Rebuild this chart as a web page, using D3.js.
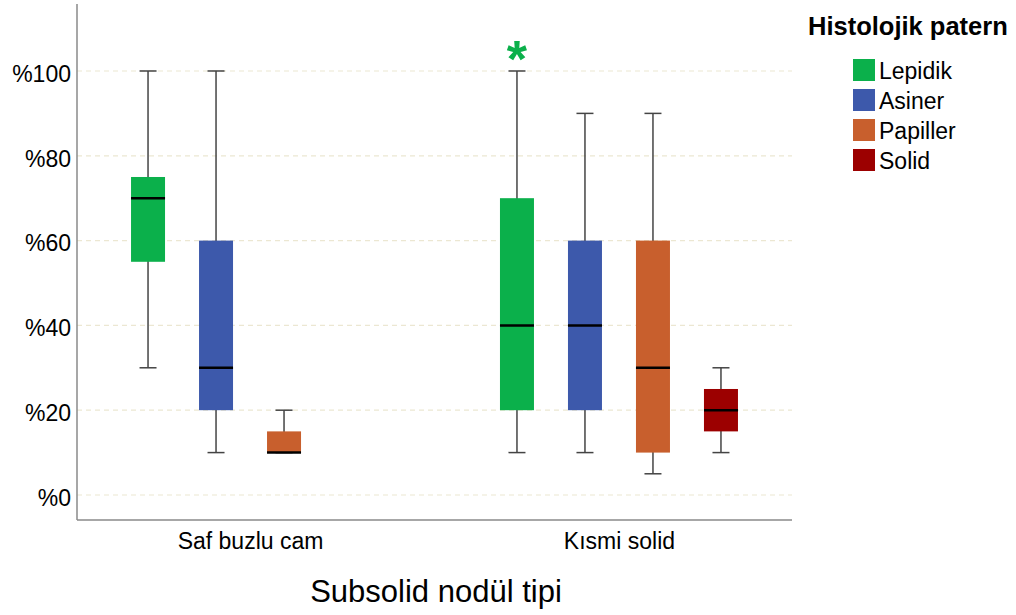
<!DOCTYPE html>
<html>
<head>
<meta charset="utf-8">
<script src="https://cdn.jsdelivr.net/npm/d3@7"></script>
<style>
  body { margin: 0; background: #fff; }
  svg text { font-family: "Liberation Sans", Arial, sans-serif; fill: #000; }
</style>
</head>
<body>
<svg id="chart" width="1016" height="615"></svg>
<script>
// categories on the x axis and the four patterns in the legend
var groups = ['Saf buzlu cam', 'Kısmi solid'];
var patterns = ['Lepidik', 'Asiner', 'Papiller', 'Solid'];
var patternColors = ['#0bb04b', '#3d59ab', '#c85f2d', '#9c0000'];

// box stats per group, one entry per pattern: [min, q1, median, q3, max] (null = no box)
var safBuzluCam = [
  [30, 55, 70, 75, 100],
  [10, 20, 30, 60, 100],
  [10, 10, 10, 15, 20],
  null
];
var kismiSolid = [
  [10, 20, 40, 70, 100],
  [10, 20, 40, 60, 90],
  [5, 10, 30, 60, 90],
  [10, 15, 20, 25, 30]
];
// extreme values marked with "*": [group, pattern, value]
var extremes = [
  ['Kısmi solid', 'Lepidik', 105.5]
];
var yTicks = [0, 20, 40, 60, 80, 100];

var svg = d3.select('#chart');
var plotLeft = 77, plotRight = 792, plotTop = 4, plotBottom = 520;

var x = d3.scalePoint().domain(groups).range([plotLeft, plotRight]).padding(0.469);
var sub = d3.scaleBand().domain(patterns).range([-136, 136])
  .paddingInner(0.5).paddingOuter(0.25);
var y = d3.scaleLinear().domain([-5.9, 115.8]).range([plotBottom, plotTop]);
var color = d3.scaleOrdinal().domain(patterns).range(patternColors);

// grid lines
svg.append('g').selectAll('line').data(yTicks).enter().append('line')
  .attr('x1', plotLeft).attr('x2', plotRight)
  .attr('y1', function(d) { return y(d); })
  .attr('y2', function(d) { return y(d); })
  .attr('stroke', '#ece7d2').attr('stroke-width', 1.2)
  .attr('stroke-dasharray', '5,4');

// y axis labels
var yAxis = svg.append('g').attr('transform', 'translate(' + plotLeft + ',0)')
  .call(d3.axisLeft(y).tickValues(yTicks).tickSize(0).tickPadding(6)
    .tickFormat(function(d) { return '%' + d; }));
yAxis.select('.domain').remove();
yAxis.selectAll('text').attr('dy', '0.45em').style('font-size', '23px')
  .style('font-family', '"Liberation Sans", Arial, sans-serif');

// x axis labels
var xAxis = svg.append('g').attr('transform', 'translate(0,' + plotBottom + ')')
  .call(d3.axisBottom(x).tickSize(0).tickPadding(13));
xAxis.select('.domain').remove();
xAxis.selectAll('text').style('font-size', '23px')
  .style('font-family', '"Liberation Sans", Arial, sans-serif');

// axis lines
svg.append('line').attr('x1', plotLeft).attr('x2', plotLeft)
  .attr('y1', plotTop).attr('y2', plotBottom)
  .attr('stroke', '#8a8a8a').attr('stroke-width', 1.5);
svg.append('line').attr('x1', plotLeft).attr('x2', plotRight)
  .attr('y1', plotBottom).attr('y2', plotBottom)
  .attr('stroke', '#8a8a8a').attr('stroke-width', 1.5);

// build flat list of boxes
var boxes = [];
[safBuzluCam, kismiSolid].forEach(function(stats, gi) {
  stats.forEach(function(s, pi) {
    if (!s) return;
    boxes.push({ group: groups[gi], pattern: patterns[pi],
      min: s[0], q1: s[1], med: s[2], q3: s[3], max: s[4] });
  });
});

var bw = sub.bandwidth();
var cx = function(d) { return x(d.group) + sub(d.pattern) + bw / 2; };

var boxG = svg.append('g').selectAll('g.box').data(boxes).enter()
  .append('g').attr('class', 'box');

// whiskers
boxG.append('line')
  .attr('x1', cx).attr('x2', cx)
  .attr('y1', function(d) { return y(d.max); })
  .attr('y2', function(d) { return y(d.min); })
  .attr('stroke', '#444').attr('stroke-width', 1.5);
['min', 'max'].forEach(function(k) {
  boxG.append('line')
    .attr('x1', function(d) { return cx(d) - bw / 4; })
    .attr('x2', function(d) { return cx(d) + bw / 4; })
    .attr('y1', function(d) { return y(d[k]); })
    .attr('y2', function(d) { return y(d[k]); })
    .attr('stroke', '#444').attr('stroke-width', 1.5);
});

// boxes
boxG.append('rect')
  .attr('x', function(d) { return cx(d) - bw / 2; })
  .attr('y', function(d) { return y(d.q3); })
  .attr('width', bw)
  .attr('height', function(d) { return y(d.q1) - y(d.q3); })
  .attr('fill', function(d) { return color(d.pattern); });

// medians
boxG.append('line')
  .attr('x1', function(d) { return cx(d) - bw / 2; })
  .attr('x2', function(d) { return cx(d) + bw / 2; })
  .attr('y1', function(d) { return y(d.med); })
  .attr('y2', function(d) { return y(d.med); })
  .attr('stroke', '#000').attr('stroke-width', 2.5);

// extreme markers
svg.append('g').selectAll('text').data(extremes).enter().append('text')
  .attr('x', function(d) { return x(d[0]) + sub(d[1]) + bw / 2; })
  .attr('y', function(d) { return y(d[2]); })
  .attr('dy', '0.57em')
  .attr('text-anchor', 'middle')
  .style('font-size', '52px').style('font-weight', 'bold')
  .style('fill', function(d) { return color(d[1]); })
  .text('*');

// x axis title
svg.append('text').attr('x', 436).attr('y', 602).attr('text-anchor', 'middle')
  .style('font-size', '31px').text('Subsolid nodül tipi');

// legend
var legend = svg.append('g');
legend.append('text').attr('x', 808).attr('y', 35)
  .style('font-size', '25.5px').style('font-weight', 'bold').text('Histolojik patern');
var item = legend.selectAll('g.item').data(patterns).enter().append('g')
  .attr('class', 'item')
  .attr('transform', function(d, i) { return 'translate(853,' + (59 + i * 30) + ')'; });
item.append('rect').attr('width', 22).attr('height', 22)
  .attr('fill', function(d) { return color(d); });
item.append('text').attr('x', 26).attr('y', 20)
  .style('font-size', '23px').text(function(d) { return d; });
</script>
</body>
</html>
